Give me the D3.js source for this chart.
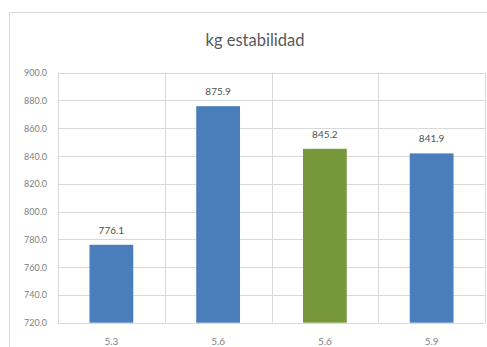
<!DOCTYPE html>
<html><head><meta charset="utf-8">
<script src="https://cdn.jsdelivr.net/npm/d3@7"></script>
<style>body{margin:0;background:#fff}svg{display:block}text{font-family:Lato,"Liberation Sans",sans-serif}</style>
</head><body>
<svg id="c" width="487" height="347"></svg>
<script>
const categories = ["5.3", "5.6", "5.6", "5.9"];
const values = [776.1, 875.9, 845.2, 841.9];
const barColors = ["#4a7ebb", "#4a7ebb", "#77983a", "#4a7ebb"];
const yTicks = [720, 740, 760, 780, 800, 820, 840, 860, 880, 900];
const title = "kg estabilidad";

(function () {
const svg = d3.select("#c");
const pL = 58, pR = 485, pT = 72.7, pB = 322.7;

// chart border
svg.append("path").attr("d", "M9.5,347 V12.5 H487").attr("fill", "none").attr("stroke", "#d9d9d9");

const x = d3.scaleBand().domain(d3.range(categories.length)).range([pL, pR]).paddingInner(0.59).paddingOuter(0.295);
const y = d3.scaleLinear().domain([720, 900]).range([pB, pT]);

// horizontal gridlines
svg.append("g").selectAll("line").data(yTicks).join("line")
  .attr("x1", pL).attr("x2", pR)
  .attr("y1", d => Math.round(y(d)) + 0.5).attr("y2", d => Math.round(y(d)) + 0.5)
  .attr("stroke", "#d9d9d9");

// vertical category dividers
const step = (pR - pL) / categories.length;
svg.append("g").selectAll("line").data(d3.range(categories.length + 1)).join("line")
  .attr("x1", i => Math.round(pL + i * step) + 0.5).attr("x2", i => Math.round(pL + i * step) + 0.5)
  .attr("y1", pT).attr("y2", pB)
  .attr("stroke", "#d9d9d9");

// y axis labels
svg.append("g").selectAll("text").data(yTicks).join("text")
  .attr("x", 47).attr("y", d => y(d) + 3.5)
  .attr("text-anchor", "end").attr("font-size", 9).attr("fill", "#7f7f7f")
  .text(d => d3.format(".1f")(d));

// bars
svg.append("g").selectAll("rect").data(values).join("rect")
  .attr("x", (d, i) => x(i)).attr("width", x.bandwidth())
  .attr("y", d => y(d)).attr("height", d => y(720) - y(d))
  .attr("fill", (d, i) => barColors[i]);

// value labels
svg.append("g").selectAll("text").data(values).join("text")
  .attr("x", (d, i) => x(i) + x.bandwidth() / 2).attr("y", d => y(d) - 11)
  .attr("text-anchor", "middle").attr("font-size", 10).attr("fill", "#505050")
  .text(d => d3.format(".1f")(d));

// x labels
svg.append("g").selectAll("text").data(categories).join("text")
  .attr("x", (d, i) => x(i) + x.bandwidth() / 2).attr("y", 345)
  .attr("text-anchor", "middle").attr("font-size", 10).attr("fill", "#7f7f7f")
  .text(d => d);

// title
svg.append("text").attr("x", 255).attr("y", 46).attr("text-anchor", "middle")
  .attr("font-size", 16.5).attr("fill", "#595959").text(title);
})();
</script>
</body></html>
